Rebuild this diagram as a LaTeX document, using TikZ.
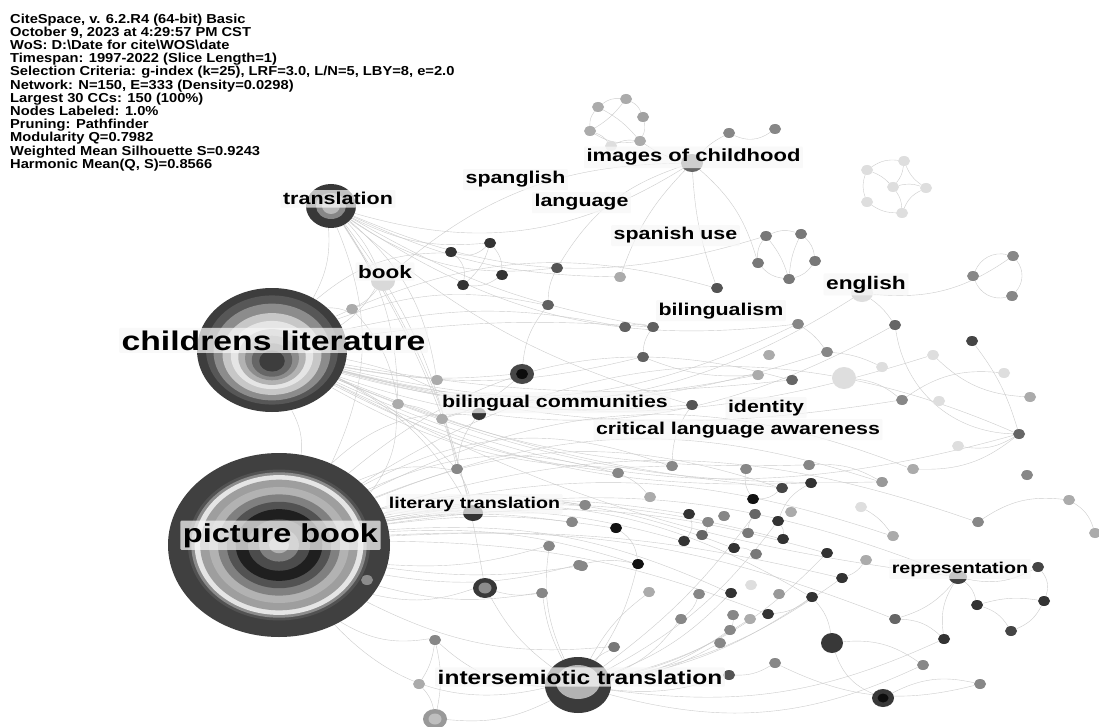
\documentclass[tikz,border=0pt]{standalone}
\usepackage{fontspec}
\newfontfamily\hdrfont[FakeStretch=1.13]{Liberation Sans}
\newfontfamily\labfont[FakeStretch=1.25]{Liberation Sans}
\usetikzlibrary{positioning}
\usetikzlibrary{shapes.geometric}
\usetikzlibrary{backgrounds}

\begin{document}
\begin{tikzpicture}[x=1pt, y=-1pt,
    dot/.style={ellipse, inner sep=0pt, minimum width=12, minimum height=10},
    link/.style={draw=black!20, line width=0.4pt},
    lab/.style={anchor=base, inner sep=2.5pt, rounded corners=1pt, fill=black!3,
      fill opacity=0.72, text opacity=1, font=\labfont\bfseries\fontsize{#1}{#1}\selectfont},
    lab/.default=17.1]

  \useasboundingbox (0,0) rectangle (1099,727);
  \begin{scope}[on background layer]
    \fill[white] (0,0) rectangle (1099,727);
  \end{scope}

  % big clusters
  \node[ellipse, inner sep=0pt, minimum width=222, minimum height=184] (pb) at (279,545) {};
  \foreach \f/\g in {1/75, 0.82/68, 0.79/45, 0.76/10, 0.71/38, 0.63/30,
      0.55/50, 0.47/68, 0.39/88, 0.28/70, 0.18/50, 0.09/30}
    \fill[black!\g] (pb.center) ellipse [x radius=\f*111pt, y radius=\f*92pt];
  \node[dot, fill=black!45] (pbdot) at (367,580) {};

  \node[ellipse, inner sep=0pt, minimum width=150, minimum height=125] (cl) at (272,350) {};
  \foreach \f/\g/\d in {1/76/0, 0.88/66/0, 0.78/45/2, 0.66/22/4, 0.55/10/5,
      0.45/30/7, 0.36/45/8, 0.27/60/10, 0.17/76/11}
    \fill[black!\g] ([yshift=-\d pt]cl.center) ellipse [x radius=\f*75pt, y radius=\f*62pt];

  \node[ellipse, inner sep=0pt, minimum width=66, minimum height=56, fill=black!77] (it) at (578,685) {};
  \fill[black!30] ([yshift=3pt]it.center) ellipse [x radius=22pt, y radius=17pt];

  \node[ellipse, inner sep=0pt, minimum width=50, minimum height=44, fill=black!78] (tr) at (331,206) {};
  \fill[black!47] (tr.center) ellipse [x radius=15pt, y radius=13pt];
  \fill[black!28] (tr.center) ellipse [x radius=9pt, y radius=8pt];

  % ringed and large single nodes
  \node[dot, minimum width=24, minimum height=20, fill=black!72] (rg1) at (522,374) {};
  \fill[black!95] (rg1.center) ellipse [x radius=6pt, y radius=5pt];
  \node[dot, minimum width=24, minimum height=20, fill=black!78] (rg2) at (485,588) {};
  \fill[black!45] (rg2.center) ellipse [x radius=6.5pt, y radius=5.5pt];
  \node[dot, minimum width=24, minimum height=20, fill=black!40] (rg3) at (435,719) {};
  \fill[black!25] (rg3.center) ellipse [x radius=6.5pt, y radius=5.5pt];
  \node[dot, minimum width=22, minimum height=18, fill=black!78] (rg4) at (883,698) {};
  \fill[black!95] (rg4.center) ellipse [x radius=5.5pt, y radius=4.5pt];
  \node[dot, minimum width=24, minimum height=20, fill=black!15] (bk) at (383,281) {};
  \node[dot, minimum width=22, minimum height=18, fill=black!60] (ic) at (692,163) {};
  \node[dot, minimum width=22, minimum height=18, fill=black!13] (en) at (862,293) {};
  \node[dot, minimum width=14, minimum height=12, fill=black!80] (bc) at (479,414) {};
  \node[dot, minimum width=20, minimum height=16, fill=black!80] (lt) at (473,513) {};
  \node[dot, minimum width=18, minimum height=14, fill=black!75] (rp) at (958,577) {};
  \node[dot, minimum width=22, minimum height=20, fill=black!78] (bd) at (832,643) {};
  \node[dot, minimum width=24, minimum height=22, fill=black!13] (bl) at (844,378) {};

  % small nodes
  \foreach \n/\x/\y/\g in {t1/598/107/33, t2/626/99/33, t3/643/117/37, t4/590/131/33,
      t5/640/141/33, t6/611/146/13, t7/729/133/47, t8/775/129/47,
      f1/867/170/13, f2/904/161/13, f3/893/187/13, f4/926/188/13, f5/867/202/13, f6/902/213/13,
      a1/451/252/80, a2/490/243/80, a3/463/285/80, a4/502/275/80, a5/557/268/67,
      a6/548/305/62, a7/620/277/33, a8/625/327/62, a9/653/327/62, a10/643/357/62,
      a11/352/309/33, a12/437/380/33,
      s1/766/236/53, s2/801/234/53, s3/758/263/53, s4/815/261/53, s5/789/279/53, s6/717/288/67,
      r1/1013/256/47, r2/973/276/47, r3/1012/296/47, r4/895/325/60, r5/972/341/73,
      r6/798/324/47, r7/769/355/33, r8/827/352/47, r9/758/375/33, r10/792/380/60,
      r11/882/367/13, r12/933/355/13, r13/1004/373/13, r14/902/400/47, r15/939/401/13,
      r16/1030/397/33, r17/1019/434/60, r18/958/446/13, r19/913/469/33, r20/1027/475/47,
      m1/398/404/33, m2/442/419/33, m3/457/469/47, m4/618/473/47, m5/672/466/47,
      m6/650/497/33, m7/585/505/47, m8/572/522/47, m9/616/528/93, m10/746/469/47,
      m11/809/465/47, m12/882/482/40, m13/782/488/73, m14/811/483/80, m15/753/499/93,
      m16/861/507/13, m17/689/514/80, m18/708/522/47, m19/724/516/47, m20/755/514/60,
      m21/778/521/80, m22/791/512/33, m23/702/535/60, m24/684/541/80, m25/748/533/53,
      m26/783/539/80, m27/893/536/33, m28/734/548/80, m29/756/554/53, m30/827/553/80,
      m31/866/560/33, m32/638/564/93, m33/582/566/47, m34/842/578/80, m35/751/585/13,
      m36/649/592/33, m37/699/594/47, m38/731/593/80, m39/779/594/40, m40/812/597/80,
      m41/895/619/60, m42/681/619/47, m43/733/615/47, m44/750/619/33, m45/768/614/80,
      m46/730/630/47, m47/692/405/67,
      l1/549/546/47, l2/579/565/47, l3/542/593/47, l4/435/640/47, l5/419/684/33,
      b1/614/647/53, b2/720/643/47, b3/729/675/67, b4/775/663/47, b5/980/684/47, b6/923/665/47,
      p1/1038/567/73, p2/1044/601/80, p3/1011/631/73, p4/944/639/80, p5/977/605/80,
      p6/978/522/47, p7/1069/500/33, p8/1095/533/33}
    \node[dot, fill=black!\g] (\n) at (\x,\y) {};

  % links
  \begin{scope}[on background layer]
    \foreach \a/\b/\k in {pb/lt/5, pb/m3/8, pb/m7/6, pb/m8/4, pb/l1/-5, pb/l2/-6, pb/rg2/-8,
        pb/m32/5, pb/m33/-4, pb/l4/-10, pb/m24/6, pb/m28/8, pb/m38/7, pb/m40/10, pb/it/-15,
        pb/r19/12, pb/m12/10, pb/m27/8, pb/m41/6, pb/r17/14, pb/p6/9, pb/m1/-10, pb/cl/-8,
        pb/bc/12, pb/m9/4, pb/m17/5, pb/m13/10, pb/m26/6, pb/m45/5, pb/rp/8, pb/m34/4,
        pb/m30/6, pb/b1/-8, pb/l3/-6, pb/tr/-12, pb/m4/10, pb/m5/12, pb/r10/14,
        cl/tr/-8, cl/bk/-6, cl/a11/5, cl/rg1/-4, cl/a1/10, cl/a6/8, cl/a10/-6, cl/r6/-10,
        cl/r8/-8, cl/r14/-6, cl/r17/-10, cl/m47/-5, cl/bc/5, cl/m5/-8, cl/m11/-6, cl/r4/-12,
        cl/s6/10, cl/a8/6, cl/m13/-4, cl/en/-12, cl/r9/-6, cl/m4/-5, cl/lt/8, cl/m3/5,
        cl/rp/-5, cl/m14/-7, cl/r10/-4, cl/a9/3, cl/m12/-6, cl/r12/-8,
        tr/a2/-8, tr/a5/-10, tr/a7/-6, tr/s1/-10, tr/ic/-12, tr/bk/5, tr/m1/8, tr/a12/10,
        tr/m3/6, tr/lt/4, tr/a9/-5, tr/r6/-10, tr/m47/-6, tr/rg2/6,
        it/b1/5, it/b2/-5, it/b3/-6, it/l3/5, it/m42/-8, it/m46/-6, it/m36/6, it/rg3/8,
        it/l4/10, it/m30/-8, it/b6/-10, it/m34/-6, it/m40/-6, it/p4/-8, it/m44/-5,
        it/m38/-6, it/rg2/6, it/l1/8, it/m32/-5, it/m21/-6, it/m20/-4,
        ic/t5/5, ic/t7/5, ic/a7/-6, ic/s3/8, ic/a5/-10, ic/bk/-10, ic/s6/-4,
        t1/t2/10, t2/t3/10, t1/t4/-10, t4/t5/-10, t3/t5/10, t1/t5/5, t2/t4/5, t4/t6/8,
        t6/t5/8, t7/t8/-15,
        f1/f2/10, f2/f3/8, f3/f4/8, f2/f4/-8, f1/f5/-10, f5/f6/-8, f3/f6/8, f4/f6/-10, f1/f3/6,
        r1/r2/-20, r2/r3/-20, r1/r3/20,
        a1/a2/-15, a1/a3/15, a2/a4/10, a3/a4/-10, a2/a3/8,
        s1/s2/10, s2/s4/10, s1/s3/-10, s3/s5/-10, s4/s5/10, s1/s5/5, s2/s5/-5,
        p1/p2/15, p2/p3/10, p5/rp/-10, p4/rp/10, p3/p5/-10, p1/rp/10, p6/p7/10, p7/p8/10,
        m13/m15/10, m14/m21/-10, m17/m24/15, m18/m23/10, m21/m26/10, m28/m29/8,
        m20/m25/-8, m15/m10/10, m9/m32/12, m4/m6/6, m5/m47/8, r4/r17/-20, r17/r19/10,
        r17/r18/10, r14/r13/10, r12/r16/-10, r5/r17/5, en/r4/5, en/r1/-10, bl/r14/8,
        r6/r8/5, r8/r11/5, m11/m12/8, m16/m27/6, m31/m34/8, m41/p4/10, m45/m40/-8,
        m43/m46/8, m37/m42/8, bd/m40/-8, bd/rg4/-12, bd/b6/10, b3/b4/-8, b4/b5/-10,
        rg4/b5/10, m1/m2/6, m2/bc/8, bc/m3/-8, m3/lt/5, lt/m7/6, rg1/a6/8, a6/a5/6,
        a8/a9/8, a9/a10/-8, a10/r9/-6, rg1/m2/6, bk/a11/6, a11/m1/8, l5/rg3/8, l4/l5/6,
        l4/rg3/6, l3/rg2/6, m33/l2/6, m32/l2/-6, rp/m41/8, p5/p2/6}
      {\pgfmathsetmacro\kk{2*\k}
       \draw[link] (\a) to[bend left=\kk] (\b);}
  \end{scope}

  % labels
  \node[lab=27]   (lbCL) at (273.5,350) {childrens literature};
  \node[lab=26]   (lbPB) at (280.5,542) {picture book};
  \node[lab=19.6] (lbIT) at (580,684) {intersemiotic translation};
  \node[lab=17.6] (lbIC) at (693.5,162) {images of childhood};
  \node[lab=17.2] (lbTR) at (338,205) {translation};
  \node[lab]      (lbSG) at (515.5,184) {spanglish};
  \node[lab]      (lbLA) at (581.5,207) {language};
  \node[lab]      (lbSU) at (675.5,240) {spanish use};
  \node[lab=18]   (lbBK) at (385,278) {book};
  \node[lab=18.2] (lbEN) at (866,289) {english};
  \node[lab]      (lbBI) at (721,315) {bilingualism};
  \node[lab]      (lbBC) at (555,407) {bilingual communities};
  \node[lab]      (lbID) at (766,412) {identity};
  \node[lab]      (lbCA) at (738,434) {critical language awareness};
  \node[lab=15.7] (lbLT) at (474.5,508) {literary translation};
  \node[lab=15.7] (lbRP) at (960,573) {representation};

  % run summary
  \node[anchor=north west, inner sep=0pt, align=left,
        font=\hdrfont\bfseries\fontsize{13}{13.2}\selectfont] (info) at (10,13.5)
    {CiteSpace, v. 6.2.R4 (64-bit) Basic\\
     October 9, 2023 at 4:29:57 PM CST\\
     WoS: D:\textbackslash Date for cite\textbackslash WOS\textbackslash date\\
     Timespan: 1997-2022 (Slice Length=1)\\
     Selection Criteria: g-index (k=25), LRF=3.0, L/N=5, LBY=8, e=2.0\\
     Network: N=150, E=333 (Density=0.0298)\\
     Largest 30 CCs: 150 (100\%)\\
     Nodes Labeled: 1.0\%\\
     Pruning: Pathfinder\\
     Modularity Q=0.7982\\
     Weighted Mean Silhouette S=0.9243\\
     Harmonic Mean(Q, S)=0.8566};
\end{tikzpicture}
\end{document}
